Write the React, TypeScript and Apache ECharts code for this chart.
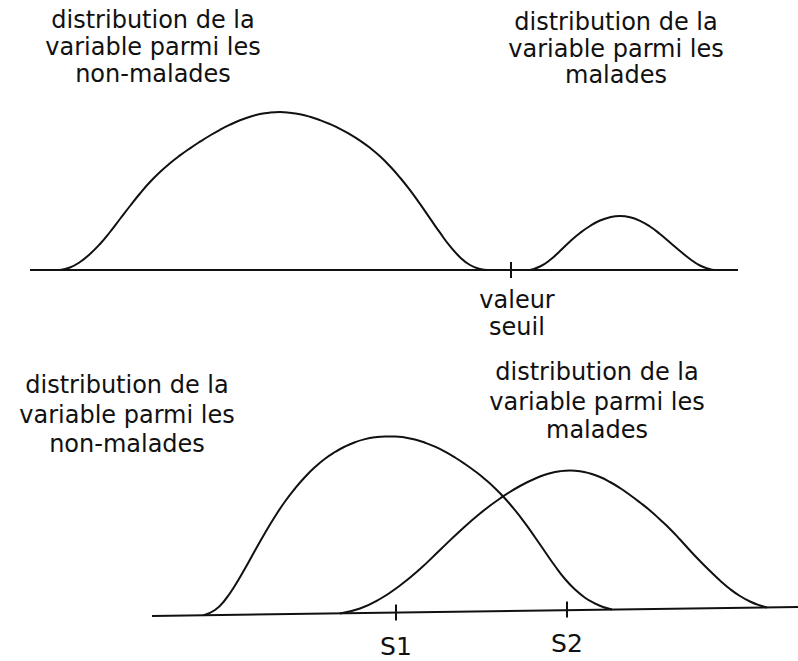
import React, { useEffect, useRef } from "react";
import * as echarts from "echarts";

// ---- Data (x, height above reference line) ----
// Top panel: height measured above the baseline.
const topBaseline: [number, number][] = [[30, 0], [738, 0]];
const topHealthy: [number, number][] = [
  [60, 0], [70, 2.5], [80, 8], [90, 16], [100, 26], [110, 38], [120, 51],
  [130, 64], [140, 76.5], [150, 88], [160, 98], [170, 106.8], [180, 114.6],
  [190, 121.7], [200, 128.3], [210, 134.5], [220, 140.2], [230, 145.3],
  [240, 149.7], [250, 153.3], [260, 155.9], [270, 157.4], [280, 157.9],
  [290, 157.2], [300, 155.7], [310, 153.2], [320, 149.9], [330, 145.9],
  [340, 141.2], [350, 135.7], [360, 129.4], [370, 122.2], [380, 113.7],
  [390, 103.7], [400, 92.4], [410, 79.9], [420, 66.1], [430, 51.6],
  [440, 37.3], [450, 23.8], [460, 12.8], [470, 5], [480, 1], [488, 0],
];
const topSick: [number, number][] = [
  [530, 0], [540, 3.5], [550, 10], [560, 19], [570, 28.5], [580, 37],
  [590, 44], [600, 49.5], [610, 52.8], [620, 54], [630, 52.8], [640, 49.2],
  [650, 43.5], [660, 36], [670, 27.5], [680, 19], [690, 11], [700, 4.5],
  [710, 0.8], [714, 0],
];
const topTicks = [{ x: 511, h: 0, label: "valeur\nseuil" }];

// Bottom panel: height measured above a horizontal reference (baseline is slightly tilted).
const bottomBaseline: [number, number][] = [[152, 4], [798, 13]];
const bottomHealthy: [number, number][] = [
  [203, 4.6], [215, 10], [225, 20], [235, 34.5], [245, 51.5], [255, 69.5],
  [265, 87], [275, 103.5], [285, 118.5], [295, 131.5], [305, 143], [315, 153],
  [325, 161.3], [335, 168], [345, 173.5], [355, 177.8], [365, 180.9],
  [375, 182.8], [385, 183.6], [395, 183.6], [405, 182.6], [415, 180.5],
  [425, 177.3], [435, 173.3], [445, 168.3], [455, 162.5], [465, 156],
  [475, 148.8], [485, 140.8], [495, 131.8], [505, 121.5], [515, 109.8],
  [525, 96.8], [535, 82.8], [545, 68.3], [555, 54], [565, 41], [575, 30.5],
  [585, 22.3], [595, 16.5], [603, 13], [612, 10.6],
];
const bottomSick: [number, number][] = [
  [340, 6.6], [360, 11.5], [380, 21], [400, 34.5], [420, 51], [440, 70],
  [460, 89], [480, 106.5], [500, 121.5], [520, 134], [540, 143.5],
  [550, 146.8], [560, 148.8], [570, 149.5], [580, 148.8], [590, 146.5],
  [600, 143], [610, 138], [620, 132], [630, 125], [640, 117.5], [650, 109.5],
  [660, 100.5], [670, 91], [680, 80.5], [690, 69.5], [700, 59], [710, 49],
  [720, 39.5], [730, 31], [740, 24], [750, 18.5], [760, 14.5], [767, 12.6],
];
const bottomTicks = [
  { x: 396, h: 7.5, label: "S1" },
  { x: 567, h: 10.5, label: "S2" },
];

// Annotation texts
const labelHealthy = ["distribution de la", "variable parmi les", "non-malades"];
const labelSick = ["distribution de la", "variable parmi les", "malades"];

const FONT = '"DejaVu Sans", "Liberation Sans", sans-serif';
const INK = "#111";

export default function App() {
  const ref = useRef<HTMLDivElement>(null);

  useEffect(() => {
    if (!ref.current) return;
    const chart = echarts.init(ref.current, undefined, { renderer: "svg" });

    const curve = (data: [number, number][], axis: number) => ({
      type: "line",
      xAxisIndex: axis,
      yAxisIndex: axis,
      data,
      smooth: 0.5,
      symbol: "none",
      lineStyle: { color: INK, width: 2 },
      silent: true,
      z: 3,
    });

    const ticks = (
      items: { x: number; h: number; label: string }[],
      axis: number,
      dist: number,
      size: number,
      lh: number,
      offset: number[]
    ) => ({
      type: "scatter",
      xAxisIndex: axis,
      yAxisIndex: axis,
      symbol: "rect",
      symbolSize: [2, 16],
      itemStyle: { color: INK, opacity: 1 },
      silent: true,
      data: items.map((t) => ({ value: [t.x, t.h], name: t.label })),
      label: {
        show: true,
        position: "bottom",
        distance: dist,
        offset,
        formatter: (p: any) => p.name,
        fontFamily: FONT,
        fontSize: size,
        lineHeight: lh,
        color: INK,
        opacity: 1,
        align: "center",
      },
      z: 4,
    });

    const textBlock = (lines: string[], cx: number, baselines: number[], size: number) =>
      lines.map((t, i) => ({
        type: "text",
        x: cx,
        y: baselines[i] - 8,
        style: {
          text: t,
          fill: INK,
          fontFamily: FONT,
          fontSize: size,
          align: "center",
          verticalAlign: "middle",
        },
      }));

    chart.setOption({
      animation: false,
      backgroundColor: "#fff",
      grid: [
        { left: 0, top: 0, width: 798, height: 270 },
        { left: 0, top: 340, width: 798, height: 280 },
      ],
      xAxis: [
        { type: "value", gridIndex: 0, min: 0, max: 798, show: false },
        { type: "value", gridIndex: 1, min: 0, max: 798, show: false },
      ],
      yAxis: [
        { type: "value", gridIndex: 0, min: 0, max: 270, show: false },
        { type: "value", gridIndex: 1, min: 0, max: 280, show: false },
      ],
      series: [
        { ...curve(topBaseline, 0), smooth: false },
        curve(topHealthy, 0),
        curve(topSick, 0),
        ticks(topTicks, 0, 8, 24, 27, [6, 0]),
        { ...curve(bottomBaseline, 1), smooth: false },
        curve(bottomHealthy, 1),
        curve(bottomSick, 1),
        ticks(bottomTicks, 1, 12, 25, 28, [0, 0]),
      ],
      graphic: [
        ...textBlock(labelHealthy, 153, [28, 55, 82], 24),
        ...textBlock(labelSick, 616, [30, 57, 83], 24),
        ...textBlock(labelHealthy, 127, [393, 423, 452], 24),
        ...textBlock(labelSick, 597, [380, 410, 438], 24),
      ],
    });

    return () => chart.dispose();
  }, []);

  return (
    <div
      ref={ref}
      style={{ position: "absolute", left: 0, top: 0, width: 798, height: 661, background: "#fff" }}
    />
  );
}
